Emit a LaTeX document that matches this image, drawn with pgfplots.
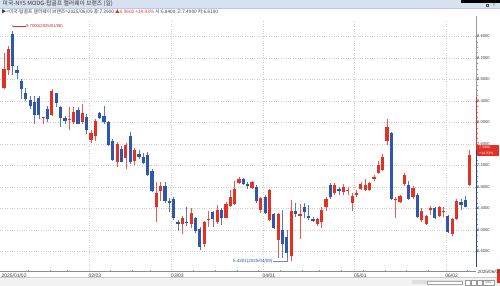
\documentclass[border=0pt]{standalone}
\usepackage{pgfplots}
\pgfplotsset{compat=1.18}
\usepackage{pgfplotstable}
\usepackage{fontspec}
\setmainfont{Liberation Sans}
\newfontfamily\kr{Noto Sans CJK KR}
\definecolor{cred}{RGB}{226,50,38}
\definecolor{cblue}{RGB}{47,88,168}
\definecolor{gridc}{RGB}{205,205,205}
\definecolor{barc}{RGB}{214,226,240}
\definecolor{txt}{RGB}{60,60,60}
\pgfplotstableread{
k O H L C u
0 8.65 9.29 8.63 9.00 1
1 8.97 9.42 8.89 9.37 1
2 9.65 9.70 8.89 9.05 0
3 8.97 9.05 8.80 8.92 0
4 8.78 8.80 8.43 8.63 0
5 8.54 8.65 8.40 8.43 0
6 8.41 8.49 8.25 8.31 0
7 8.39 8.49 7.97 8.14 0
8 8.45 8.49 8.06 8.14 0
9 8.08 8.11 7.97 8.10 1
10 8.26 8.31 8.00 8.06 0
11 8.14 8.62 8.12 8.59 1
12 8.54 8.55 8.28 8.37 0
13 8.28 8.31 7.92 8.08 0
14 8.08 8.12 7.97 8.03 0
15 8.04 8.28 7.86 8.06 1
16 8.01 8.29 7.97 8.20 1
17 8.23 8.28 7.97 7.98 0
18 8.01 8.34 7.97 8.17 1
19 8.11 8.15 7.78 7.86 0
20 7.67 7.86 7.61 7.80 1
21 7.75 8.06 7.66 8.03 1
22 8.17 8.19 8.06 8.08 0
23 8.12 8.31 7.97 8.00 0
24 8.00 8.03 7.57 7.59 0
25 7.66 7.69 7.28 7.31 0
26 7.27 7.63 7.18 7.60 1
27 7.51 7.57 7.26 7.27 0
28 7.34 7.61 7.14 7.58 1
29 7.74 7.83 7.23 7.27 0
30 7.28 7.53 7.20 7.48 1
31 7.42 7.49 7.32 7.35 0
32 7.35 7.43 7.23 7.24 0
33 7.39 7.45 7.00 7.02 0
34 7.10 7.14 6.71 6.72 0
35 6.43 6.89 6.14 6.69 1
36 6.72 6.89 6.54 6.81 1
37 6.81 6.89 6.51 6.54 0
38 6.54 6.59 6.34 6.51 0
39 6.57 6.62 6.19 6.23 0
40 6.14 6.19 5.99 6.12 0
41 6.11 6.26 5.93 6.22 1
42 6.15 6.43 6.08 6.13 0
43 6.12 6.40 6.03 6.32 1
44 6.22 6.25 5.94 5.99 0
45 6.01 6.05 5.62 5.69 0
46 5.74 6.17 5.69 6.15 1
47 6.18 6.36 6.05 6.20 1
48 6.34 6.36 6.05 6.20 0
49 6.15 6.46 6.12 6.38 1
50 6.37 6.40 6.09 6.23 0
51 6.23 6.52 6.22 6.49 1
52 6.44 6.74 6.42 6.62 1
53 6.49 6.92 6.46 6.77 1
54 6.87 6.99 6.86 6.94 1
55 6.94 6.97 6.83 6.85 0
56 6.85 6.89 6.77 6.81 0
57 6.78 6.92 6.76 6.90 1
58 6.80 6.83 6.50 6.54 0
59 6.37 6.62 6.32 6.60 1
60 6.62 6.65 6.30 6.31 0
61 6.18 6.77 6.17 6.75 1
62 6.29 6.31 6.01 6.04 0
63 5.82 6.31 5.48 6.29 1
64 6.00 6.37 5.48 5.74 0
65 5.87 6.00 5.48 5.58 0
66 5.51 6.55 5.42 6.36 1
67 6.35 6.50 6.25 6.30 0
68 6.26 6.49 5.83 6.29 1
69 6.42 6.50 6.22 6.34 0
70 6.26 6.46 6.18 6.22 0
71 6.20 6.25 6.14 6.17 0
72 6.12 6.22 6.07 6.20 1
73 6.14 6.42 6.03 6.38 1
74 6.42 6.62 6.36 6.57 1
75 6.84 6.87 6.58 6.62 0
76 6.69 6.87 6.66 6.84 1
77 6.77 6.80 6.66 6.73 0
78 6.71 6.85 6.66 6.80 1
79 6.73 6.80 6.66 6.75 1
80 6.50 6.69 6.36 6.63 1
81 6.66 6.75 6.62 6.68 1
82 6.77 6.89 6.75 6.86 1
83 6.75 6.95 6.73 6.83 1
84 6.74 6.89 6.73 6.87 1
85 6.95 7.03 6.92 6.99 1
86 7.06 7.29 7.05 7.20 1
87 7.11 7.42 7.10 7.35 1
88 7.66 8.06 7.59 7.91 1
89 7.80 7.82 6.55 6.57 0
90 6.55 6.62 6.22 6.58 1
91 6.52 6.65 6.50 6.63 1
92 6.86 7.06 6.81 7.02 1
93 6.83 6.91 6.55 6.58 0
94 6.62 6.81 6.58 6.79 1
95 6.65 6.68 6.22 6.25 0
96 6.18 6.40 6.15 6.36 1
97 6.12 6.28 6.09 6.26 1
98 6.38 6.44 6.28 6.40 1
99 6.40 6.43 6.20 6.22 0
100 6.26 6.44 6.25 6.42 1
101 6.33 6.43 6.25 6.35 1
102 6.26 6.28 5.95 5.97 0
103 5.92 6.22 5.89 6.20 1
104 6.20 6.58 6.18 6.54 1
105 6.52 6.58 6.38 6.46 0
106 6.55 6.63 6.42 6.43 0
107 6.84 7.49 6.81 7.39 1
}\data
\begin{document}
\begin{tikzpicture}[x=1pt,y=1pt]
\useasboundingbox (0,0) rectangle (500,286);
\fill[white] (0,0) rectangle (500,286);
% title bar
\fill[barc] (0,278) rectangle (500,286);
\draw[barc!70!blue!60, line width=0.4pt] (0,278.2) -- (500,278.2);
\fill[black] (461,283.3) rectangle (500,286);
\node[anchor=west, inner sep=0, text=black!80, font=\kr\fontsize{5.8}{7}\selectfont] at (2.5,282) {미국-NYS MODG-탑골프 캘러웨이 브랜즈 (일)};
\draw[black!70, line width=0.35pt] (486,279.6) rectangle (488.6,282.2);
\node[anchor=center, inner sep=0, text=black!70, font=\fontsize{4.5}{5}\selectfont] at (494,280.9) {×};
% header line
\node[anchor=west, inner sep=0, text=txt, font=\kr\fontsize{4.75}{5}\selectfont] at (1.5,274.4) {▶<미국-탑골프 캘러웨이 브랜즈>2025/06/09 종:7.3900 \textcolor{cred}{▲0.9600} \textcolor{cred}{+14.93\%} 시:6.8400 고:7.4900 저:6.8100};
% bottom strip
\fill[black!5] (0,0) rectangle (500,9);
\draw[black!20, line width=0.3pt] (0,9) -- (500,9);
\fill[black!12] (412,1.5) rectangle (463,5.5);
\fill[white] (427,2) rectangle (462,5);
\draw[black!35, line width=0.3pt] (427,2) rectangle (462,5);
\foreach \xx in {465,471,477}{\draw[black!40, fill=white, line width=0.3pt] (\xx,1.3) rectangle (\xx+5,5.7);}
\draw[black!40, fill=white, line width=0.3pt] (483,1.3) rectangle (494,5.7);
\node[inner sep=0, font=\fontsize{2.6}{3}\selectfont, text=black!70] at (488.5,3.5) {MAX};
\fill[cred] (496.5,3) rectangle (500,17);
\begin{axis}[
  at={(0,27)}, anchor=south west, scale only axis,
  width=476pt, height=251pt,
  xmin=-0.919, xmax=108.46, ymin=5.228, ymax=9.898,
  axis x line*=bottom, axis y line*=right,
  x axis line style={black!45, line width=0.4pt, -},
  y axis line style={draw=none},
  xtick={19.5,38.5,59.5,80.5,101.5},
  xticklabels={02/03,03/03,04/01,05/01,06/02},
  extra x ticks={-0.5},
  extra x tick labels={2025/01/02},
  extra x tick style={grid=none},
  minor xtick={5.5,10.5,14.5,24.5,29.5,33.5,43.5,48.5,53.5,58.5,63.5,68.5,72.5,77.5,82.5,87.5,92.5,97.5,106.5},
  xmajorgrids,
  ytick={5.6,6.0,6.4,6.8,7.2,7.6,8.0,8.4,8.8,9.2,9.6},
  minor y tick num=3,
  ymajorgrids,
  grid style={gridc, dotted, line width=0.35pt},
  minor grid style={draw=none},
  x tick style={black!45, line width=0.3pt},
  major x tick style={draw=none},
  y tick style={black!45, line width=0.3pt},
  major tick length=2pt, minor tick length=1.8pt,
  tick align=outside,
  xtick align=inside,
  xticklabel style={anchor=north west, inner sep=0pt, yshift=-2pt, xshift=-0.5pt, font=\fontsize{5}{6}\selectfont, text=txt},
  yticklabel style={anchor=west, inner sep=0pt, xshift=-1pt, font=\fontsize{4.1}{5}\selectfont, text=txt,
    /pgf/number format/.cd, fixed, fixed zerofill, precision=4},
  /pgf/number format/assume math mode=true,
  clip=true,
]
% wicks (zero length for the other colour)
\addplot[draw=cred!80, line width=0.6pt, line cap=butt, mark=none,
  quiver={u=0, v={\thisrow{u}*(\thisrow{H}-\thisrow{L})}}]
  table[x=k, y=L] {\data};
\addplot[draw=cblue!80, line width=0.6pt, line cap=butt, mark=none,
  quiver={u=0, v={(1-\thisrow{u})*(\thisrow{H}-\thisrow{L})}}]
  table[x=k, y=L] {\data};
% bodies
\addplot[draw=cred, line width=3.2pt, line cap=butt, mark=none,
  quiver={u=0, v={\thisrow{u}*max(abs(\thisrow{C}-\thisrow{O}),0.02)}}]
  table[x=k, y expr={min(\thisrow{O},\thisrow{C})}] {\data};
\addplot[draw=cblue, line width=3.2pt, line cap=butt, mark=none,
  quiver={u=0, v={(1-\thisrow{u})*max(abs(\thisrow{C}-\thisrow{O}),0.02)}}]
  table[x=k, y expr={min(\thisrow{O},\thisrow{C})}] {\data};
\end{axis}
% right axis line segments
\draw[black!40, line width=0.5pt] (476,270) -- (476,189);
\draw[cred, line width=0.8pt] (476,189) -- (476,136);
\draw[cblue!80!black, line width=0.8pt] (476,136) -- (476,19);
% price box
\fill[cred] (476.5,130) rectangle (499,141);
\node[inner sep=0, text=white, font=\fontsize{3.5}{4}\selectfont, anchor=west] at (479,138.4) {7.3900};
\node[inner sep=0, text=white, font=\fontsize{3.5}{4}\selectfont, anchor=west] at (479,132.7) {+14.93\%};
% max annotation
\fill[cred] (12.7,260) circle (0.6);
\draw[cred, line width=0.4pt] (12.7,260) -- (25.5,260);
\node[anchor=west, inner sep=0, text=cred!85!black, font=\fontsize{4.2}{5}\selectfont] at (26,260) {9.7000(2025/01/06)};
% min annotation
\draw[cblue!70, line width=0.4pt] (273,24.5) -- (287,24.5) -- (287,28);
\node[anchor=east, inner sep=0, text=cblue, font=\fontsize{4.5}{5}\selectfont] at (272.5,24.5) {5.4201(2025/04/09)};
% last date label
\node[anchor=west, inner sep=0, text=txt, font=\fontsize{4.6}{5}\selectfont] at (477.5,14) {2025/06/09};
\end{tikzpicture}
\end{document}
